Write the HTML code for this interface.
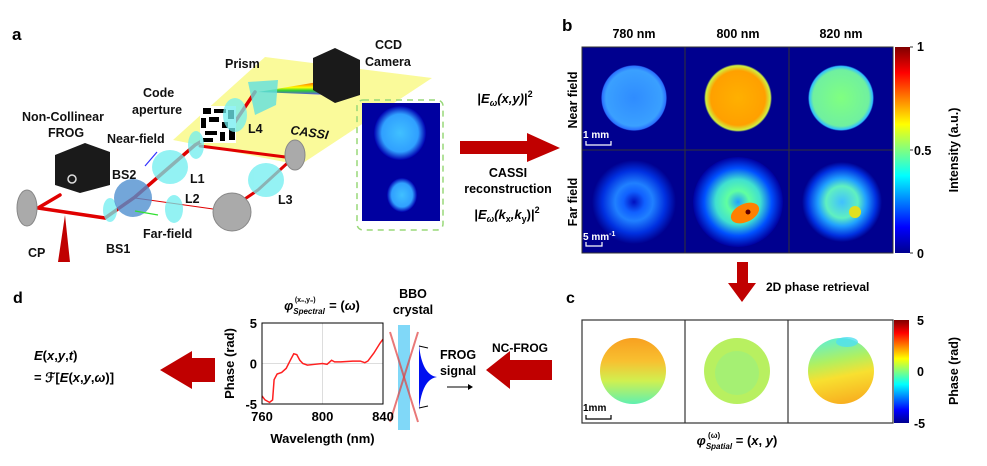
<!DOCTYPE html>
<html><head><meta charset="utf-8"><style>
body{margin:0;background:#fff;}
svg{display:block;font-family:"Liberation Sans",Arial,sans-serif;}
.b{font-weight:bold;}
</style></head><body>
<svg width="987" height="466" viewBox="0 0 987 466">
<defs>
<linearGradient id="jetV" x1="0" y1="1" x2="0" y2="0">
<stop offset="0" stop-color="#00008f"/><stop offset="0.125" stop-color="#0000ff"/><stop offset="0.375" stop-color="#00ffff"/><stop offset="0.5" stop-color="#80ff80"/><stop offset="0.625" stop-color="#ffff00"/><stop offset="0.875" stop-color="#ff0000"/><stop offset="1" stop-color="#800000"/>
</linearGradient>
<radialGradient id="nf780" cx="0.5" cy="0.5" r="0.5"><stop offset="0" stop-color="#2f8cff"/><stop offset="0.85" stop-color="#3aa0ff"/><stop offset="0.97" stop-color="#2a70ff"/><stop offset="1" stop-color="#00008f"/></radialGradient>
<radialGradient id="nf800" cx="0.5" cy="0.5" r="0.5"><stop offset="0" stop-color="#ffb000"/><stop offset="0.8" stop-color="#ffa000"/><stop offset="0.95" stop-color="#d0f040"/><stop offset="1" stop-color="#00008f"/></radialGradient>
<radialGradient id="nf820" cx="0.5" cy="0.5" r="0.5"><stop offset="0" stop-color="#80ff80"/><stop offset="0.85" stop-color="#70f0a0"/><stop offset="0.96" stop-color="#30c0ff"/><stop offset="1" stop-color="#00008f"/></radialGradient>
<radialGradient id="ff780" cx="0.5" cy="0.5" r="0.5"><stop offset="0" stop-color="#0010c0"/><stop offset="0.25" stop-color="#1060ff"/><stop offset="0.45" stop-color="#2080ff"/><stop offset="0.75" stop-color="#0030e0"/><stop offset="1" stop-color="#00008f"/></radialGradient>
<radialGradient id="ff800" cx="0.5" cy="0.5" r="0.5"><stop offset="0" stop-color="#20a0ff"/><stop offset="0.25" stop-color="#60ffa0"/><stop offset="0.5" stop-color="#40e0d0"/><stop offset="0.75" stop-color="#0050ff"/><stop offset="1" stop-color="#0000a0"/></radialGradient>
<radialGradient id="ff820" cx="0.5" cy="0.5" r="0.5"><stop offset="0" stop-color="#40c0ff"/><stop offset="0.4" stop-color="#60f0c0"/><stop offset="0.6" stop-color="#20a0ff"/><stop offset="0.85" stop-color="#0030e0"/><stop offset="1" stop-color="#00008f"/></radialGradient>
<radialGradient id="ins" cx="0.5" cy="0.5" r="0.5"><stop offset="0" stop-color="#40c0ff"/><stop offset="0.7" stop-color="#30a0ff"/><stop offset="1" stop-color="#0000b0"/></radialGradient>
<linearGradient id="rainbow" x1="0" y1="0" x2="0" y2="1"><stop offset="0" stop-color="#ff2000"/><stop offset="0.3" stop-color="#ffa000"/><stop offset="0.5" stop-color="#ffff00"/><stop offset="0.7" stop-color="#30d030"/><stop offset="1" stop-color="#6040ff"/></linearGradient>
<linearGradient id="ph780" x1="0" y1="0" x2="0" y2="1"><stop offset="0" stop-color="#f8a020"/><stop offset="0.35" stop-color="#f8c030"/><stop offset="0.65" stop-color="#d0f050"/><stop offset="1" stop-color="#60f0b0"/></linearGradient>
<linearGradient id="ph820" x1="0.3" y1="0" x2="0.5" y2="1"><stop offset="0" stop-color="#60f0d0"/><stop offset="0.35" stop-color="#b0f060"/><stop offset="0.6" stop-color="#f8e030"/><stop offset="1" stop-color="#f8b020"/></linearGradient>
</defs>

<!-- Panel a -->
<g>
<text x="12" y="40" font-size="17" class="b">a</text>
<polygon points="265,57 432,78 300,165 173,140" fill="#fafa9a"/>
<g stroke="#e00000" fill="none" stroke-linecap="round">
<polyline points="60,195 38,208 105,218 135,197 195,145 235,122 255,92" stroke-width="3.5"/>
<polyline points="200,146 293,158 258,190 230,209" stroke-width="3"/>
<line x1="135" y1="198" x2="213" y2="209" stroke-width="1"/>
<polygon points="58,262 65,215 70,262" fill="#c00000" stroke="none"/>
</g>
<polygon points="258,92 330,80 330,95" fill="url(#rainbow)"/>
<polygon points="313,58 335,48 360,60 360,95 335,103 313,90" fill="#1a1a1a"/>
<polygon points="55,155 85,143 110,152 110,185 80,193 55,185" fill="#1a1a1a"/>
<circle cx="72" cy="179" r="4" fill="none" stroke="#ddd" stroke-width="1.5"/>
<polygon points="248,82 278,80 276,105 255,115" fill="#60e0e0" opacity="0.8"/>
<g>
<rect x="200" y="106" width="36" height="37" fill="#fff"/>
<rect x="203" y="108" width="8" height="6" fill="#000"/><rect x="214" y="109" width="12" height="4" fill="#000"/><rect x="228" y="110" width="6" height="9" fill="#000"/>
<rect x="201" y="118" width="5" height="10" fill="#000"/><rect x="209" y="117" width="10" height="5" fill="#000"/><rect x="222" y="122" width="6" height="6" fill="#000"/>
<rect x="205" y="131" width="12" height="4" fill="#000"/><rect x="220" y="132" width="5" height="9" fill="#000"/><rect x="229" y="128" width="6" height="12" fill="#000"/><rect x="203" y="138" width="10" height="4" fill="#000"/>
</g>
<g fill="#70eef0" opacity="0.75">
<ellipse cx="235" cy="115" rx="12" ry="17"/>
<ellipse cx="196" cy="145" rx="8" ry="14"/>
<ellipse cx="170" cy="167" rx="18" ry="17"/>
<ellipse cx="174" cy="209" rx="9" ry="14"/>
<ellipse cx="266" cy="180" rx="18" ry="17"/>
<ellipse cx="110" cy="210" rx="7" ry="12"/>
</g>
<circle cx="133" cy="198" r="19" fill="#5090d0" opacity="0.8"/>
<g fill="#aaa" stroke="#888">
<ellipse cx="27" cy="208" rx="10" ry="18"/>
<ellipse cx="295" cy="155" rx="10" ry="15"/>
<circle cx="232" cy="212" r="19"/>
</g>
<g stroke="#98d878" stroke-width="1.5" stroke-dasharray="6,5" fill="none">
<rect x="357" y="100" width="86" height="130" rx="6"/>
</g>
<rect x="362" y="103" width="78" height="118" fill="#0000a0"/>
<ellipse cx="400" cy="133" rx="26" ry="27" fill="url(#ins)"/>
<ellipse cx="402" cy="195" rx="15" ry="17" fill="url(#ins)"/>
<line x1="145" y1="166" x2="157" y2="152" stroke="#3030ff" stroke-width="1.2"/>
<line x1="135" y1="211" x2="158" y2="215" stroke="#30e030" stroke-width="1.2"/>
<g font-size="12.5" class="b" fill="#111">
<text x="22" y="121">Non-Collinear</text>
<text x="48" y="137">FROG</text>
<text x="143" y="97">Code</text>
<text x="132" y="114">aperture</text>
<text x="225" y="68">Prism</text>
<text x="375" y="49">CCD</text>
<text x="365" y="66">Camera</text>
<text x="107" y="143">Near-field</text>
<text x="112" y="179">BS2</text>
<text x="190" y="183">L1</text>
<text x="185" y="203">L2</text>
<text x="278" y="204">L3</text>
<text x="248" y="133">L4</text>
<text x="290" y="134" font-style="italic" transform="rotate(8 290 134)">CASSI</text>
<text x="143" y="238">Far-field</text>
<text x="106" y="253">BS1</text>
<text x="28" y="257">CP</text>
</g>
</g>

<g>
<text x="505" y="103" font-size="13" class="b" text-anchor="middle">|<tspan font-style="italic">E</tspan><tspan font-size="9" dy="3" font-style="italic">ω</tspan><tspan dy="-3" font-style="italic">(x,y)</tspan>|<tspan font-size="9" dy="-6">2</tspan></text>
<polygon points="460,141 527,141 527,133 560,148 527,162 527,154 460,154" fill="#c00000"/>
<text x="508" y="177" font-size="12.5" class="b" text-anchor="middle">CASSI</text>
<text x="508" y="193" font-size="12.5" class="b" text-anchor="middle">reconstruction</text>
<text x="507" y="219" font-size="13" class="b" text-anchor="middle">|<tspan font-style="italic">E</tspan><tspan font-size="9" dy="3" font-style="italic">ω</tspan><tspan dy="-3" font-style="italic">(k</tspan><tspan font-size="9" dy="3">x</tspan><tspan dy="-3" font-style="italic">,k</tspan><tspan font-size="9" dy="3">y</tspan><tspan dy="-3">)</tspan>|<tspan font-size="9" dy="-6">2</tspan></text>
</g>

<!-- Panel b -->
<g>
<text x="562" y="31" font-size="17" class="b">b</text>
<g font-size="12.5" class="b" text-anchor="middle">
<text x="634" y="38">780 nm</text><text x="738" y="38">800 nm</text><text x="841" y="38">820 nm</text>
<text transform="translate(577 100) rotate(-90)">Near field</text>
<text transform="translate(577 202) rotate(-90)">Far field</text>
</g>
<rect x="582" y="47" width="311" height="206" fill="#00008f"/>
<circle cx="634" cy="98" r="33" fill="url(#nf780)"/>
<circle cx="738" cy="98" r="34" fill="url(#nf800)"/>
<circle cx="841" cy="98" r="33" fill="url(#nf820)"/>
<circle cx="634" cy="202" r="42" fill="url(#ff780)"/>
<circle cx="738" cy="202" r="45" fill="url(#ff800)"/>
<ellipse cx="745" cy="213" rx="15" ry="9" fill="#ff8000" transform="rotate(-25 745 213)"/>
<circle cx="748" cy="212" r="2.5" fill="#600000"/>
<circle cx="842" cy="202" r="40" fill="url(#ff820)"/>
<circle cx="855" cy="212" r="6" fill="#e0e020"/>
<g stroke="#333" stroke-width="1" fill="none">
<rect x="582" y="47" width="311" height="206"/>
<line x1="685" y1="47" x2="685" y2="253"/><line x1="789" y1="47" x2="789" y2="253"/>
<line x1="582" y1="150" x2="893" y2="150"/>
</g>
<g stroke="#fff" fill="none" stroke-width="1.2"><polyline points="586,141 586,145 611,145 611,141"/><polyline points="586,242 586,246 602,246 602,242"/></g>
<text x="583" y="138" font-size="10" class="b" fill="#fff">1 mm</text>
<text x="583" y="240" font-size="10" class="b" fill="#fff">5 mm<tspan font-size="7" dy="-4">-1</tspan></text>
<rect x="895" y="47" width="15" height="206" fill="url(#jetV)"/>
<g font-size="12.5" class="b"><text x="917" y="51">1</text><text x="914" y="155">0.5</text><text x="917" y="258">0</text></g>
<g stroke="#333"><line x1="910" y1="47" x2="913" y2="47"/><line x1="910" y1="150" x2="913" y2="150"/><line x1="910" y1="253" x2="913" y2="253"/></g>
<text transform="translate(958 150) rotate(-90)" font-size="12.5" class="b" text-anchor="middle">Intensity (a.u.)</text>
</g>

<polygon points="737,262 748,262 748,283 756,283 742,302 728,283 737,283" fill="#c00000"/>
<text x="766" y="291" font-size="12" class="b">2D phase retrieval</text>

<!-- Panel c -->
<g>
<text x="566" y="303" font-size="16" class="b">c</text>
<rect x="582" y="320" width="311" height="103" fill="#fff"/>
<circle cx="633" cy="371" r="33" fill="url(#ph780)"/>
<circle cx="737" cy="371" r="33" fill="#b8f060"/>
<circle cx="737" cy="373" r="22" fill="#98f080" opacity="0.6"/>
<circle cx="841" cy="371" r="33" fill="url(#ph820)"/>
<ellipse cx="847" cy="342" rx="11" ry="5" fill="#50e0f0" opacity="0.8"/>
<g stroke="#333" stroke-width="1.2" fill="none"><rect x="582" y="320" width="311" height="103"/><line x1="685" y1="320" x2="685" y2="423"/><line x1="788" y1="320" x2="788" y2="423"/></g>
<polyline points="586,415 586,419 611,419 611,415" stroke="#000" fill="none" stroke-width="1.2"/>
<text x="583" y="411" font-size="10" class="b">1mm</text>
<rect x="894" y="320" width="15" height="103" fill="url(#jetV)"/>
<g font-size="12.5" class="b"><text x="917" y="325">5</text><text x="917" y="376">0</text><text x="914" y="428">-5</text></g>
<text transform="translate(958 371) rotate(-90)" font-size="12.5" class="b" text-anchor="middle">Phase (rad)</text>
<text x="737" y="445" font-size="13" class="b" text-anchor="middle"><tspan font-style="italic">φ</tspan><tspan font-size="8" dy="4" font-style="italic">Spatial</tspan><tspan font-size="8" dx="-24" dy="-11">(ω)</tspan><tspan dx="12" dy="7"> = (</tspan><tspan font-style="italic">x</tspan>, <tspan font-style="italic">y</tspan>)</text>
</g>

<text x="492" y="352" font-size="12" class="b">NC-FROG</text>
<polygon points="552,360 510,360 510,351 486,370 510,389 510,380 552,380" fill="#c00000"/>
<g font-size="12.5" class="b" text-anchor="middle"><text x="458" y="359">FROG</text><text x="458" y="375">signal</text>
<text x="413" y="298">BBO</text><text x="413" y="314">crystal</text></g>
<line x1="447" y1="387" x2="468" y2="387" stroke="#000"/><polygon points="468,384 473,387 468,390" fill="#000"/>
<g>
<rect x="398" y="325" width="12" height="105" fill="#80d8f8"/>
<line x1="390" y1="332" x2="418" y2="422" stroke="#e04040" stroke-width="2" opacity="0.7"/>
<line x1="418" y1="332" x2="390" y2="422" stroke="#e04040" stroke-width="2" opacity="0.7"/>
<path d="M419,345 Q422,375 437,377 Q422,379 419,410 Z" fill="#0010f0"/>
<line x1="419" y1="346" x2="428" y2="348" stroke="#000"/><line x1="419" y1="408" x2="428" y2="406" stroke="#000"/>
</g>

<!-- Panel d -->
<g>
<text x="13" y="303" font-size="16" class="b">d</text>
<text x="34" y="360" font-size="13" class="b"><tspan font-style="italic">E</tspan>(<tspan font-style="italic">x</tspan>,<tspan font-style="italic">y</tspan>,<tspan font-style="italic">t</tspan>)</text>
<text x="34" y="382" font-size="13" class="b">= ℱ[<tspan font-style="italic">E</tspan>(<tspan font-style="italic">x</tspan>,<tspan font-style="italic">y</tspan>,<tspan font-style="italic">ω</tspan>)]</text>
<polygon points="215,358 192,358 192,351 160,370 192,389 192,382 215,382" fill="#c00000"/>
<text x="322" y="310" font-size="13" class="b" text-anchor="middle"><tspan font-style="italic">φ</tspan><tspan font-size="8" dy="4" font-style="italic">Spectral</tspan><tspan font-size="7" dx="-30" dy="-12">(x₀,y₀)</tspan><tspan dx="10" dy="8"> = (</tspan><tspan font-style="italic">ω</tspan>)</text>
<g id="chart"></g>
</g>
</svg>
<script>
const wavelengths=[760,762,765,767,768,770,773,776,779,781,783,785,787,790,795,800,803,806,808,812,820,825,828,830,834,838,840];
const phaseValues=[-4,-4.5,-4.8,-4.5,-2,-1.3,-1.1,-0.6,0.5,1.2,1.1,0.4,0,-0.2,-0.1,0,-0.1,0.4,0.2,0.2,0.3,0.3,0.1,0.3,1.3,2.5,3];
const xTicks=[760,800,840];
const yTicks=[-5,0,5];
const NS='http://www.w3.org/2000/svg';
const g=document.getElementById('chart');
const X0=262,X1=383,Y0=404,Y1=323;
const sx=v=>X0+(v-760)/(840-760)*(X1-X0);
const sy=v=>Y0-(v+5)/10*(Y0-Y1);
function mk(t,a){const e=document.createElementNS(NS,t);for(const k in a)e.setAttribute(k,a[k]);g.appendChild(e);return e;}
mk('line',{x1:sx(800),x2:sx(800),y1:Y1,y2:Y0,stroke:'#ddd'});
mk('line',{x1:X0,x2:X1,y1:sy(0),y2:sy(0),stroke:'#ddd'});
const p=mk('polyline',{points:wavelengths.map((w,i)=>sx(w)+','+sy(phaseValues[i])).join(' '),fill:'none',stroke:'#ff2020','stroke-width':1.5});


mk('rect',{x:X0,y:Y1,width:X1-X0,height:Y0-Y1,fill:'none',stroke:'#000','stroke-width':1});
xTicks.forEach(v=>{const t=mk('text',{x:sx(v),y:Y0+17,'font-size':13,'font-weight':'bold','text-anchor':'middle'});t.textContent=v;

});
yTicks.forEach(v=>{const t=mk('text',{x:X0-5,y:sy(v)+5,'font-size':13,'font-weight':'bold','text-anchor':'end'});t.textContent=v;

});
const xt=mk('text',{x:(X0+X1)/2,y:443,'font-size':13,'font-weight':'bold','text-anchor':'middle'});xt.textContent='Wavelength (nm)';


const yt=mk('text',{transform:'translate(234 '+((Y0+Y1)/2)+') rotate(-90)','font-size':13,'font-weight':'bold','text-anchor':'middle'});yt.textContent='Phase (rad)';


</script>
</body></html>
